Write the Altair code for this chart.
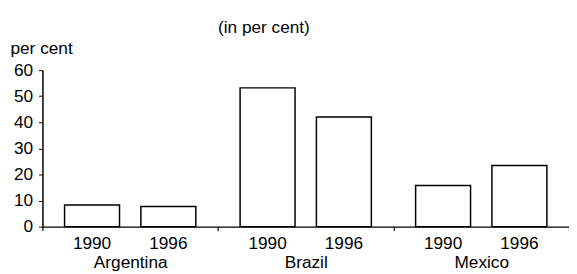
import altair as alt
import pandas as pd

countries = ["Argentina", "Argentina", "Brazil", "Brazil", "Mexico", "Mexico"]
years = ["1990", "1996", "1990", "1996", "1990", "1996"]
values = [8.3, 7.7, 53.2, 42.0, 15.8, 23.4]
title_text = "(in per cent)"
y_title = "per cent"

df = pd.DataFrame({"country": countries, "year": years, "value": values})

FONT = "Liberation Sans"
FS = 17.5
W, H = 535, 159

x_enc = alt.X("country:N", sort=["Argentina", "Brazil", "Mexico"],
              scale=alt.Scale(paddingInner=0, paddingOuter=0),
              axis=alt.Axis(title=None, labelAngle=0, tickBand="extent", tickSize=4,
                            tickColor="black", domainColor="black", domainWidth=1.5,
                            tickWidth=1.2, labelFont=FONT, labelFontSize=FS,
                            labelColor="black", labelBaseline="alphabetic",
                            labelPadding=38, grid=False))
xo_enc = alt.XOffset("year:N", scale=alt.Scale(paddingInner=0.28, paddingOuter=0.29))

bars = alt.Chart(df).mark_bar(fill="white", stroke="black", strokeWidth=1.5).encode(
    x=x_enc,
    xOffset=xo_enc,
    y=alt.Y("value:Q", scale=alt.Scale(domain=[0, 60], nice=False),
            axis=alt.Axis(values=[0, 10, 20, 30, 40, 50, 60], title=y_title,
                          titleAngle=0, titleX=-33, titleY=-17, titleAlign="left",
                          titleBaseline="alphabetic", titleFont=FONT,
                          titleFontSize=FS, titleFontWeight="normal", titleColor="black",
                          labelFont=FONT, labelFontSize=FS, labelColor="black",
                          tickSize=4, labelPadding=6, tickColor="black",
                          domainColor="black", domainWidth=1.5, grid=False)),
)

year_labels = alt.Chart(df).mark_text(font=FONT, fontSize=FS, color="black",
                                      baseline="alphabetic").encode(
    x=alt.X("country:N", sort=["Argentina", "Brazil", "Mexico"]),
    xOffset=xo_enc,
    y=alt.value(H + 23),
    text="year:N",
)

title = alt.Chart(pd.DataFrame({"t": [title_text]})).mark_text(
    font=FONT, fontSize=FS, color="black", baseline="alphabetic").encode(
    x=alt.value(225), y=alt.value(-38), text="t:N")

chart = alt.layer(bars, year_labels, title).properties(
    width=W, height=H,
    background="white",
    autosize=alt.AutoSizeParams(type="none"),
    padding={"left": 35, "top": 61, "right": 0, "bottom": 46},
).configure_view(stroke=None)

chart.save("out.html", embed_options={"renderer": "svg", "actions": False})
